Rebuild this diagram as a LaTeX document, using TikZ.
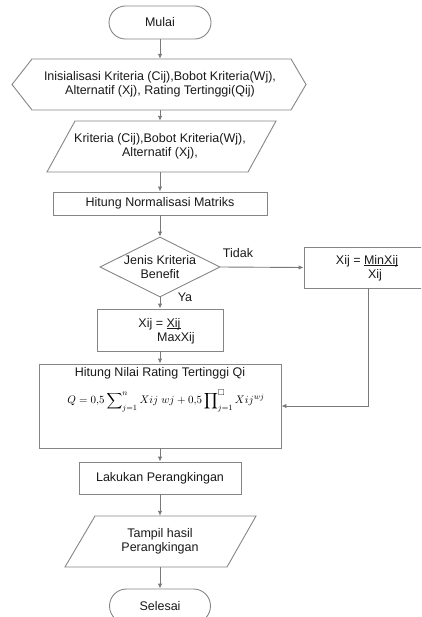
\documentclass[tikz,border=0pt]{standalone}
\usepackage{amsmath,amssymb}
\usepackage{fontspec}
\setmainfont{Liberation Sans}
\usetikzlibrary{shapes.geometric,shapes.misc,arrows.meta}
\newcommand{\flowfont}{\fontsize{12.5}{14}\selectfont}
\newcommand{\ulx}[1]{\setbox0\hbox{#1}\rlap{\rule[-1.6pt]{\wd0}{0.6pt}}\box0}
\begin{document}
\begin{tikzpicture}[x=1pt,y=-1pt,
  line/.style={draw=black!48, line width=0.9pt},
  arr/.style={draw=black!52, line width=0.9pt, -{Latex[length=5pt,width=4.5pt]}},
  boxshape/.style={line, rectangle, inner sep=0pt},
  txt/.style={inner sep=0pt, align=center, font=\flowfont, text=black!90},
  term/.style={line, rounded rectangle, inner sep=0pt, align=center, font=\flowfont, text=black!90}]
\useasboundingbox (0,0) rectangle (421,617);
\clip (0,0) rectangle (421,617);

% terminal start
\node[term, minimum width=102pt, minimum height=33pt] (mulai) at (160,22.5) {Mulai};

% hexagon (preparation)
\draw[line] (12,84.5) -- (32,59) -- (291,59) -- (306,84.5) -- (291,110) -- (32,110) -- cycle;
\node[txt, minimum height=51pt] (init) at (160,84.5) {Inisialisasi Kriteria (Cij),Bobot Kriteria(Wj),\\Alternatif (Xj), Rating Tertinggi(Qij)};

% input parallelogram
\draw[line] (75,121) -- (276,121) -- (248,172) -- (47,172) -- cycle;
\node[txt, minimum height=51pt] (par1) at (160,146.5) {Kriteria (Cij),Bobot Kriteria(Wj),\\Alternatif (Xj),};

% normalisation
\node[boxshape, minimum width=214pt, minimum height=23pt, font=\flowfont, text=black!90] (norm) at (160,203.5) {Hitung Normalisasi Matriks};

% decision
\node[line, diamond, minimum width=120pt, minimum height=60pt, inner sep=0pt] (dec) at (160,267) {};
\node[txt] (dectext) at (160,267) {Jenis Kriteria\\Benefit};

% cost branch
\node[boxshape, minimum width=128pt, minimum height=41pt] (minbox) at (368,267.5) {};
\node[txt] (mintop) at (367,261) {Xij = \ulx{MinXij}};
\node[txt] (minbot) at (375,275) {Xij};

% benefit branch
\node[boxshape, minimum width=126pt, minimum height=42pt] (maxbox) at (160,330) {};
\node[txt] (maxtop) at (159.5,324) {Xij = \ulx{Xij}};
\node[txt] (maxbot) at (176,338.5) {MaxXij};

% Q computation
\node[boxshape, minimum width=242pt, minimum height=84pt] (hitung) at (160,406) {};
\node[txt] (hitungtitle) at (160,373) {Hitung Nilai Rating Tertinggi Qi};
\node[inner sep=0pt, font=\fontsize{11}{12}\selectfont] (formula) at (166,401)
  {$Q = 0{,}5\displaystyle\sum\nolimits_{j=1}^{n} Xij\; wj + 0{,}5\prod\nolimits_{j=1}^{\square} Xij^{wj}$};

% ranking
\node[boxshape, minimum width=162pt, minimum height=32pt, font=\flowfont, text=black!90] (rank) at (160,478) {Lakukan Perangkingan};

% output parallelogram
\draw[line] (95,516) -- (256,516) -- (227,567) -- (65,567) -- cycle;
\node[txt, minimum height=51pt] (par2) at (160,541.5) {Tampil hasil\\Perangkingan};

% terminal end
\node[term, minimum width=101pt, minimum height=34pt] (selesai) at (160,606) {Selesai};

% labels
\node[txt] (tidak) at (238,253) {Tidak};
\node[txt] (ya) at (185,297) {Ya};

% connectors
\draw[arr] (mulai.south) -- (init.north);
\draw[arr] (init.south) -- (par1.north);
\draw[arr] (par1.south) -- (norm.north);
\draw[arr] (norm.south) -- (dec.north);
\draw[arr] (dec.east) -- (minbox.west);
\draw[arr] (dec.south) -- (maxbox.north);
\draw[arr] (maxbox.south) -- (hitung.north);
\draw[arr] (minbox.south) |- (hitung.east);
\draw[arr] (hitung.south) -- (rank.north);
\draw[arr] (rank.south) -- (par2.north);
\draw[arr] (par2.south) -- (selesai.north);
\end{tikzpicture}
\end{document}
